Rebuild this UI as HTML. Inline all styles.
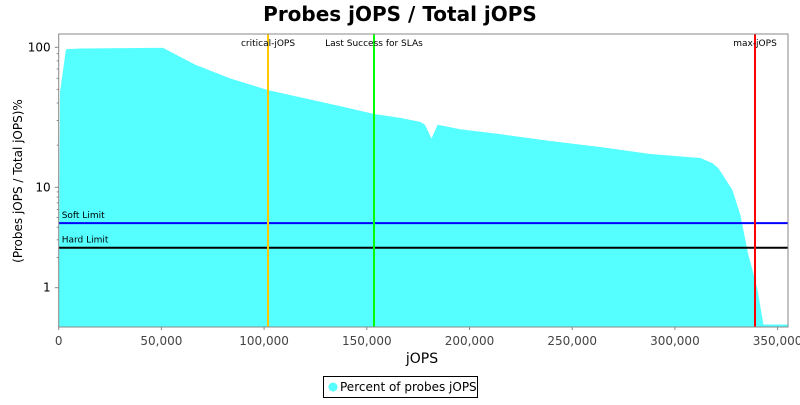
<!DOCTYPE html>
<html><head><meta charset="utf-8"><style>
body{margin:0;background:#fff;font-family:"Liberation Sans","DejaVu Sans",sans-serif}
</style></head><body>
<svg id="chart" width="800" height="400" xmlns="http://www.w3.org/2000/svg">
<text x="400" y="21" text-anchor="middle" font-size="20" font-weight="bold" font-family="DejaVu Sans, sans-serif">Probes jOPS / Total jOPS</text>
<g id="plot"></g>
<text x="422" y="363" text-anchor="middle" font-size="14" font-family="DejaVu Sans, sans-serif">jOPS</text>
<text transform="translate(22,181) rotate(-90)" text-anchor="middle" font-size="12" font-family="DejaVu Sans, sans-serif">(Probes jOPS / Total jOPS)%</text>
<g>
<rect x="323.5" y="376.5" width="154" height="21" fill="#fff" stroke="#000"/>
<circle cx="333" cy="387" r="4.5" fill="#55ffff"/>
<text x="340" y="391" font-size="12" font-family="DejaVu Sans, sans-serif">Percent of probes jOPS</text>
</g>
</svg>
<script>
const xValues=[0,630,3550,10400,44450,50800,66500,83400,101900,117500,137000,153500,166200,176000,178300,181500,184500,195400,214900,239300,263600,288000,312400,318200,321200,328000,331900,335800,337800,340200,343100,355000,355000];
const yValues=[0.3,48,97,98,99,99,75,60,49.5,44,38,33.4,31.3,29.3,28,22.3,28,26,24,21.4,19.4,17.3,16.2,14.9,13.7,9.4,5.3,2.1,1.5,0.95,0.43,0.43,0.3];
const xTicks=[0,50000,100000,150000,200000,250000,300000,350000];
const yTicks=[1,10,100];
const markers=[{label:"critical-jOPS",x:101900,color:"#ffc800"},{label:"Last Success for SLAs",x:153500,color:"#00ff00"},{label:"max-jOPS",x:339000,color:"#ff0000"}];
const limits=[{label:"Soft Limit",y:4.4,color:"#0000ff"},{label:"Hard Limit",y:2.5,color:"#000000"}];

const L=58.7,R=788,T=34,B=327;
const NS="http://www.w3.org/2000/svg";
const sx=v=>L+v/50000*102.7;
function sy(v){const lg=Math.log10(Math.max(v,1e-3));
 if(lg>=1)return 187.3-(lg-1)*140;
 return 287.7-lg*100.4;}
const g=document.getElementById('plot');
function mk(tag,attrs,parent){const e=document.createElementNS(NS,tag);for(const k in attrs)e.setAttribute(k,attrs[k]);(parent||g).appendChild(e);return e;}
const clip=mk('clipPath',{id:'cp'});mk('rect',{x:L,y:T,width:R-L,height:B-T},clip);
let d='';
for(let i=0;i<xValues.length;i++){const y=Math.min(sy(yValues[i]),B);d+=(i?'L':'M')+sx(xValues[i]).toFixed(1)+','+y.toFixed(1);}
d+='L'+sx(xValues[xValues.length-1])+','+B+'L'+sx(0)+','+B+'Z';
const area=mk('path',{d:d,fill:'#55ffff','clip-path':'url(#cp)'});


limits.forEach(l=>{
 const y=sy(l.y);
 const ln=mk('line',{x1:L,x2:R,y1:y,y2:y,stroke:l.color,'stroke-width':2});
 
 
 const t=mk('text',{x:L+3,y:y-5,'font-size':9,'font-family':'DejaVu Sans, sans-serif'});t.textContent=l.label;
 
 
});
markers.forEach(m=>{
 const x=sx(m.x);
 const ln=mk('line',{x1:x,x2:x,y1:T,y2:B,stroke:m.color,'stroke-width':2});
 
 
 const t=mk('text',{x:x,y:T+12,'font-size':9,'text-anchor':'middle','font-family':'DejaVu Sans, sans-serif'});t.textContent=m.label;
 
 
});
const fr=mk('rect',{x:L,y:T,width:R-L,height:B-T,fill:'none',stroke:'#888'});


xTicks.forEach(v=>{const x=sx(v);
 mk('line',{x1:x,x2:x,y1:B,y2:B+3,stroke:'#888'});
 const t=mk('text',{x:x,y:B+18,'font-size':12,'text-anchor':'middle','font-family':'DejaVu Sans, sans-serif',fill:'#444'});t.textContent=v.toLocaleString('en-US');
 
 
});
yTicks.forEach(v=>{const y=sy(v);
 mk('line',{x1:L-4,x2:L,y1:y,y2:y,stroke:'#888'});
 for(let k=2;k<10;k++){const yy=sy(v*k);if(yy>T)mk('line',{x1:L-2,x2:L,y1:yy,y2:yy,stroke:'#888'});}
 const t=mk('text',{x:L-8,y:y+4,'font-size':12,'text-anchor':'end','font-family':'DejaVu Sans, sans-serif'});t.textContent=v;
 
 
});
</script>
</body></html>
